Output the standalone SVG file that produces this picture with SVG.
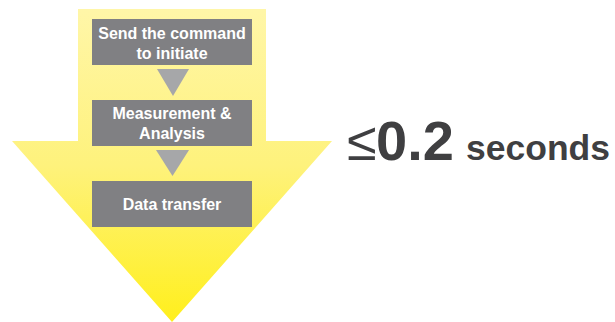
<svg xmlns="http://www.w3.org/2000/svg" width="615" height="322" viewBox="0 0 615 322">
  <defs>
    <linearGradient id="yel" x1="0" y1="9" x2="0" y2="322" gradientUnits="userSpaceOnUse">
      <stop offset="0" stop-color="#FFF6A8"/>
      <stop offset="0.5" stop-color="#FEF27C"/>
      <stop offset="1" stop-color="#FFEF1C"/>
    </linearGradient>
    <style>
      .box { fill: #808083; }
      .tri { fill: #A6A7A9; }
      .lbl { fill: #FFFFFF; font-family: "Liberation Sans", Arial, sans-serif; font-weight: bold; font-size: 16px; text-anchor: middle; }
      .big { fill: #3F3F41; font-family: "Liberation Sans", Arial, sans-serif; font-weight: bold; }
    </style>
  </defs>
  <g id="big-arrow">
    <polygon points="78,9 266,9 266,141 332,141 172,322 12,141 78,141" fill="url(#yel)"/>
  </g>
  <g id="connectors">
    <polygon class="tri" points="157,69 189,69 173,96"/>
    <polygon class="tri" points="156,150 189,150 172.5,176"/>
  </g>
  <g id="node-send">
    <rect class="box" x="92" y="19" width="160" height="46"/>
    <text class="lbl" x="172" y="38.5">Send the command</text>
    <text class="lbl" x="172" y="58.5">to initiate</text>
  </g>
  <g id="node-measure">
    <rect class="box" x="92" y="100" width="160" height="46"/>
    <text class="lbl" x="172" y="119">Measurement &amp;</text>
    <text class="lbl" x="172" y="139">Analysis</text>
  </g>
  <g id="node-transfer">
    <rect class="box" x="92" y="181" width="160" height="46"/>
    <text class="lbl" x="172" y="210">Data transfer</text>
  </g>
  <g id="timing">
    <text x="347" y="160" style="fill:#3F3F41;font-family:'Liberation Sans',Arial,sans-serif;font-size:54px;">≤</text>
    <text class="big" x="376" y="160" font-size="56">0.2</text>
    <text class="big" x="466" y="160" font-size="35.5">seconds</text>
  </g>
</svg>
